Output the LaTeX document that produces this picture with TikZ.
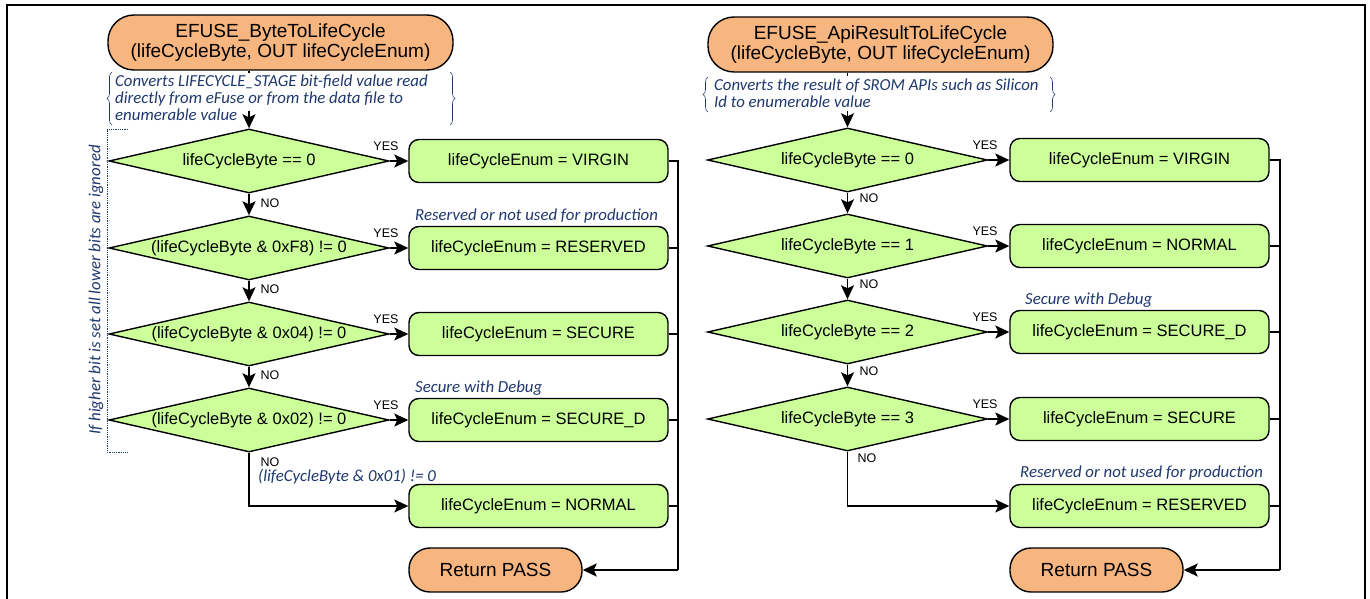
\documentclass[tikz,border=0pt]{standalone}
\usepackage{fontspec}
\setmainfont{Liberation Sans}
\newfontfamily\notefont{Carlito}
\usetikzlibrary{shapes.geometric,arrows.meta,decorations.pathreplacing}
\definecolor{boxgreen}{RGB}{204,255,153}
\definecolor{termorange}{RGB}{247,181,127}
\definecolor{noteblue}{RGB}{31,56,110}
\begin{document}
\begin{tikzpicture}[x=1pt,y=-1pt,
  base/.style={draw=black, line width=1.4pt, inner sep=0pt, align=center, font=\fontsize{16.5}{18}\selectfont},
  term/.style={base, fill=termorange},
  title/.style={term, minimum width=345pt, minimum height=55pt, rounded corners=26pt, font=\fontsize{19}{20}\selectfont},
  retbox/.style={term, minimum width=173pt, minimum height=44pt, rounded corners=21pt, font=\fontsize{19}{20}\selectfont},
  dec/.style={base, diamond, fill=boxgreen, aspect=4.375, minimum width=280pt, minimum height=64pt},
  act/.style={base, rectangle, fill=boxgreen, rounded corners=10pt, minimum width=259pt, minimum height=43pt},
  note/.style={font=\notefont\fontsize{16.8}{17}\selectfont\itshape, text=noteblue, inner sep=0pt, align=left},
  lab/.style={font=\fontsize{12.5}{13}\selectfont, inner sep=0pt},
  conn/.style={draw=black, line width=1.3pt},
  arr/.style={conn, -{Stealth[length=14pt,width=13pt,inset=3pt]}},
  brc/.style={draw=noteblue, line width=0.6pt, decorate, decoration={brace, amplitude=5pt}}
]
\useasboundingbox (0,0) rectangle (1370,599);
\fill[white] (0,0) rectangle (1370,599);
% frame
\draw[line width=2pt] (6.5,600) -- (6.5,5.5) -- (1365,5.5) -- (1365,600);

% ================= LEFT =================
\node[title] (s1) at (280.5,42.5) {EFUSE\_ByteToLifeCycle\\(lifeCycleByte, OUT lifeCycleEnum)};
\node[dec] (d11) at (249,161) {lifeCycleByte == 0};
\node[dec] (d12) at (249,248) {(lifeCycleByte \& 0xF8) != 0};
\node[dec] (d13) at (249,334) {(lifeCycleByte \& 0x04) != 0};
\node[dec] (d14) at (249,420) {(lifeCycleByte \& 0x02) != 0};
\node[act] (b11) at (538.5,161) {lifeCycleEnum = VIRGIN};
\node[act] (b12) at (538.5,248) {lifeCycleEnum = RESERVED};
\node[act] (b13) at (538.5,334) {lifeCycleEnum = SECURE};
\node[act] (b14) at (538.5,420) {lifeCycleEnum = SECURE\_D};
\node[act] (b15) at (538.5,506) {lifeCycleEnum = NORMAL};
\node[retbox] (r1) at (495.5,570) {Return PASS};
\coordinate (c1t) at (678,161);
\coordinate (c1b) at (678,570);

\draw[arr] (s1.south -| d11.north) -- (d11.north);
\fill[white] (113,73) rectangle (449,111);
\node[note, anchor=north west] (n11) at (115,75) {Converts LIFECYCLE\_STAGE bit-field value read\\directly from eFuse or from the data file to\\enumerable value};
\draw[brc] (112,125) -- (112,72);
\draw[brc] (450,72) -- (450,125);

\draw[arr] (d11.south) -- (d12.north);
\draw[arr] (d12.south) -- (d13.north);
\draw[arr] (d13.south) -- (d14.north);
\draw[arr] (d11.east) -- (b11.west);
\draw[arr] (d12.east) -- (b12.west);
\draw[arr] (d13.east) -- (b13.west);
\draw[arr] (d14.east) -- (b14.west);
\draw[arr] (d14.south) |- (b15.west);

\node[lab] (y11) at (386,146) {YES};
\node[lab] (y12) at (386,233) {YES};
\node[lab] (y13) at (386,319) {YES};
\node[lab] (y14) at (386,405) {YES};
\node[lab] (o11) at (270,203) {NO};
\node[lab] (o12) at (270,289) {NO};
\node[lab] (o13) at (270,375) {NO};
\node[lab] (o14) at (270,462) {NO};
\node[note, anchor=west] (n12) at (258,477) {(lifeCycleByte \& 0x01) != 0};
\node[note, anchor=west] (n13) at (415,216) {Reserved or not used for production};
\node[note, anchor=west] (n14) at (415,388) {Secure with Debug};

\draw[conn] (b11.east) -- (c1t) -- (c1b);
\draw[conn] (b12.east) -- (b12.east -| c1t);
\draw[conn] (b13.east) -- (b13.east -| c1t);
\draw[conn] (b14.east) -- (b14.east -| c1t);
\draw[conn] (b15.east) -- (b15.east -| c1t);
\draw[arr, line width=2.4pt] (c1b) -- (r1.east);

% dotted bracket + rotated note
\draw[noteblue, densely dotted, line width=0.8pt] (128,129) -- (107,129) -- (107,452) -- (128,452);
\node[note, rotate=90] (n15) at (96,290) {If higher bit is set all lower bits are ignored};

% ================= RIGHT =================
\node[title] (s2) at (880.5,44.5) {EFUSE\_ApiResultToLifeCycle\\(lifeCycleByte, OUT lifeCycleEnum)};
\node[dec] (d21) at (847.5,160) {lifeCycleByte == 0};
\node[dec] (d22) at (847.5,246) {lifeCycleByte == 1};
\node[dec] (d23) at (847.5,332) {lifeCycleByte == 2};
\node[dec] (d24) at (847.5,419) {lifeCycleByte == 3};
\node[act] (b21) at (1139.5,160) {lifeCycleEnum = VIRGIN};
\node[act] (b22) at (1139.5,246) {lifeCycleEnum = NORMAL};
\node[act] (b23) at (1139.5,332) {lifeCycleEnum = SECURE\_D};
\node[act] (b24) at (1139.5,419) {lifeCycleEnum = SECURE};
\node[act] (b25) at (1139.5,506) {lifeCycleEnum = RESERVED};
\node[retbox] (r2) at (1096.5,570) {Return PASS};
\coordinate (c2t) at (1280,160);
\coordinate (c2b) at (1280,570);

\draw[arr] (s2.south -| d21.north) -- (d21.north);
\fill[white] (710,76) rectangle (1048,111);
\node[note, anchor=north west] (n21) at (714,79) {Converts the result of SROM APIs such as Silicon\\Id to enumerable value};
\draw[brc] (708,112) -- (708,77);
\draw[brc] (1050,77) -- (1050,112);

\draw[arr] (d21.south) -- (d22.north);
\draw[arr] (d22.south) -- (d23.north);
\draw[arr] (d23.south) -- (d24.north);
\draw[arr] (d21.east) -- (b21.west);
\draw[arr] (d22.east) -- (b22.west);
\draw[arr] (d23.east) -- (b23.west);
\draw[arr] (d24.east) -- (b24.west);
\draw[arr] (d24.south) |- (b25.west);

\node[lab] (y21) at (985,145) {YES};
\node[lab] (y22) at (985,231) {YES};
\node[lab] (y23) at (985,317) {YES};
\node[lab] (y24) at (985,404) {YES};
\node[lab] (o21) at (869,198) {NO};
\node[lab] (o22) at (869,284) {NO};
\node[lab] (o23) at (869,371) {NO};
\node[lab] (o24) at (867,458) {NO};
\node[note, anchor=west] (n22) at (1025,300) {Secure with Debug};
\node[note, anchor=west] (n23) at (1020,473) {Reserved or not used for production};

\draw[conn] (b21.east) -- (c2t) -- (c2b);
\draw[conn] (b22.east) -- (b22.east -| c2t);
\draw[conn] (b23.east) -- (b23.east -| c2t);
\draw[conn] (b24.east) -- (b24.east -| c2t);
\draw[conn] (b25.east) -- (b25.east -| c2t);
\draw[arr, line width=2.4pt] (c2b) -- (r2.east);
\end{tikzpicture}
\end{document}
